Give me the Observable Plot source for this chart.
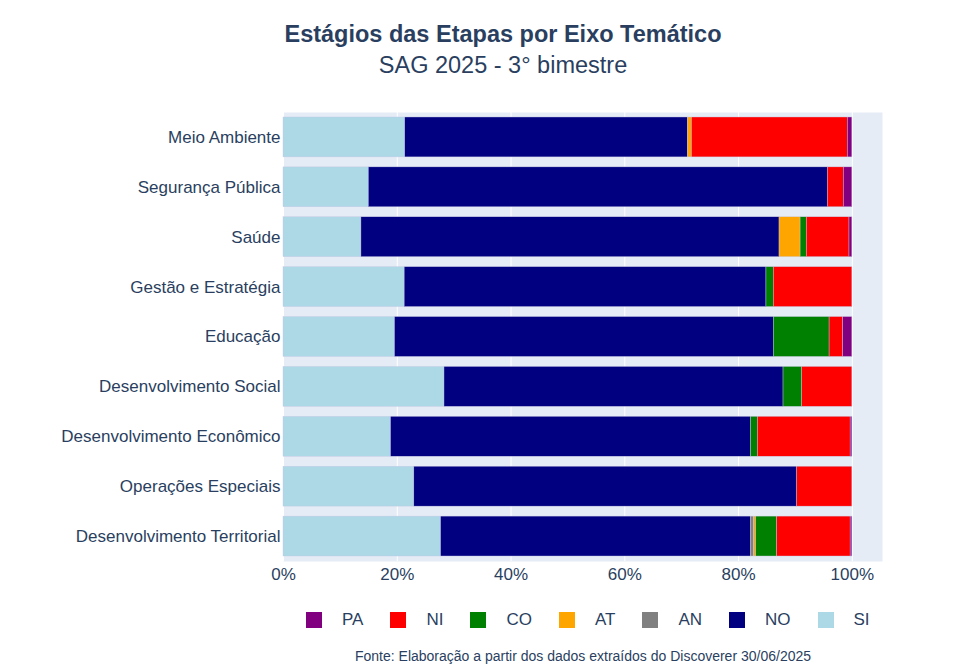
<!DOCTYPE html>
<html><head><meta charset="utf-8">
<script src="https://cdn.jsdelivr.net/npm/d3@7"></script>
<script src="https://cdn.jsdelivr.net/npm/@observablehq/plot@0.6"></script>
<style>
body{margin:0;background:#fff;font-family:"Liberation Sans",Arial,sans-serif;color:#2a3f5f;}
#wrap{position:relative;width:977px;height:664px;overflow:hidden;}
#chart{position:absolute;left:0;top:0;}
#title{position:absolute;left:0;width:1006px;top:21px;text-align:center;font-size:23.5px;font-weight:bold;line-height:27px;}
#subtitle{position:absolute;left:0;width:1006px;top:52px;text-align:center;font-size:23.5px;line-height:27px;}
#legend{position:absolute;top:610px;left:306px;display:flex;line-height:20px;}
.item{display:flex;align-items:center;font-size:17px;margin-right:27px;}
.sw{width:16px;height:16px;margin-right:20px;}
#caption{position:absolute;top:647px;left:0;width:1166px;text-align:center;font-size:14px;line-height:18px;}
</style></head><body>
<div id="wrap">
<div id="chart"></div>
<div id="title">Estágios das Etapas por Eixo Temático</div>
<div id="subtitle">SAG 2025 - 3° bimestre</div>
<div id="legend"></div>
<div id="caption">Fonte: Elaboração a partir dos dados extraídos do Discoverer 30/06/2025</div>
</div>
<script>
const categories = ["Meio Ambiente","Segurança Pública","Saúde","Gestão e Estratégia","Educação","Desenvolvimento Social","Desenvolvimento Econômico","Operações Especiais","Desenvolvimento Territorial"];
const stackOrder = ["SI","NO","AN","AT","CO","NI","PA"];
const legendOrder = ["PA","NI","CO","AT","AN","NO","SI"];
const stageColors = ["#ADD8E6","#000080","#808080","#FFA500","#008000","#FF0000","#800080"];
const SI = [21.4,15.0,13.7,21.3,19.6,28.3,18.9,23.0,27.7];
const NO = [49.7,80.7,73.5,63.6,66.6,59.6,63.3,67.3,54.5];
const AN = [0,0,0,0,0,0,0,0,0.5];
const AT = [0.7,0,3.7,0,0,0,0,0,0.4];
const CO = [0,0,1.1,1.3,9.8,3.3,1.2,0,3.7];
const NI = [27.4,2.8,7.5,13.8,2.4,8.8,16.3,9.7,12.9];
const PA = [0.8,1.5,0.5,0,1.6,0,0.3,0,0.3];
const xTicks = [0,20,40,60,80,100];

const series = {SI,NO,AN,AT,CO,NI,PA};
const rows = [];
categories.forEach((c,i)=>stackOrder.forEach(s=>rows.push({cat:c,stage:s,value:series[s][i]})));

const chart = Plot.plot({
  width:977, height:590,
  marginTop:112, marginBottom:29, marginLeft:283, marginRight:95,
  style:{fontFamily:'"Liberation Sans",Arial,sans-serif',fontSize:"17px",color:"#2a3f5f",background:"transparent"},
  x:{domain:[0,105.3],ticks:xTicks,tickFormat:d=>d+"%",tickSize:0,tickPadding:6,label:null},
  y:{domain:categories,paddingInner:0.2,paddingOuter:0.1,round:false,tickSize:0,tickPadding:3,label:null},
  color:{domain:stackOrder,range:stageColors},
  marks:[
    Plot.frame({fill:"#E5ECF6",stroke:null}),
    Plot.gridX(xTicks,{stroke:"white",strokeOpacity:1,strokeWidth:1}),
    Plot.barX(rows,Plot.stackX({x:"value",y:"cat",fill:"stage",z:"stage",order:stackOrder,inset:0,stroke:"#c9c9e6",strokeWidth:0.4}))
  ]
});
document.getElementById("chart").appendChild(chart);

const leg = document.getElementById("legend");
legendOrder.forEach(s=>{
  const it=document.createElement("div");it.className="item";
  const sw=document.createElement("div");sw.className="sw";sw.style.background=stageColors[stackOrder.indexOf(s)];
  const t=document.createElement("span");t.textContent=s;
  it.appendChild(sw);it.appendChild(t);leg.appendChild(it);
});
</script>
</body></html>
